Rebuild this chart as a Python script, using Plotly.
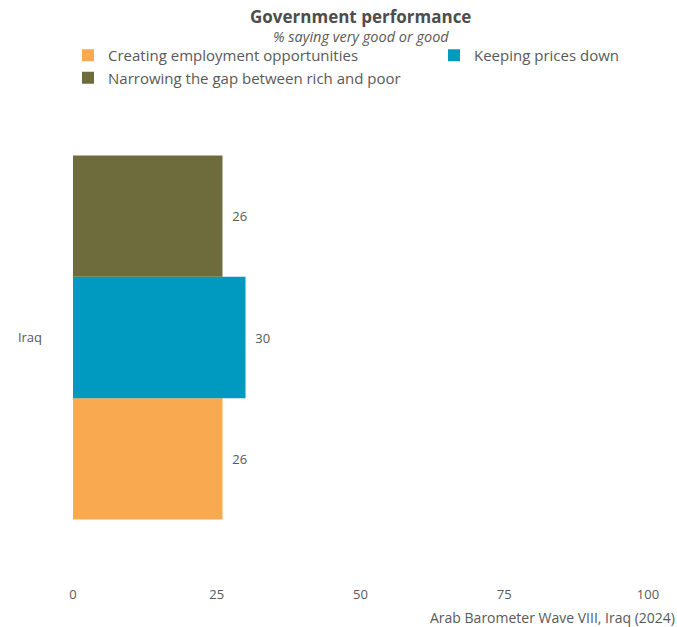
import plotly.graph_objects as go

categories = ["Iraq"]
series_names = ["Creating employment opportunities", "Keeping prices down",
                "Narrowing the gap between rich and poor"]
series_values = [[26], [30], [26]]
colors = ["#F9A94F", "#0099C0", "#6E6C3C"]
legend_ids = ["legend", "legend2", "legend"]
x_ticks = [0, 25, 50, 75, 100]

FONT = "Open Sans"
GRAY = "#595959"

# plot area geometry (px)
L, R, T, B = 73, 29, 110, 62
W, H = 677, 627
PW, PH = W - L - R, H - T - B


def py(ypix):
    return (H - B - ypix) / PH


def px(xpix):
    return (xpix - L) / PW


fig = go.Figure()
for name, vals, col, lg in zip(series_names, series_values, colors, legend_ids):
    fig.add_trace(go.Bar(
        y=categories, x=vals, name=name, orientation="h", legend=lg,
        marker=dict(color=col, line=dict(width=0)),
        texttemplate="\u00a0\u00a0%{x}", textposition="outside",
        textfont=dict(family=FONT, size=13, color=GRAY),
        cliponaxis=False,
    ))

legend_common = dict(
    orientation="v", xanchor="left", yanchor="top",
    font=dict(family=FONT, size=15, color=GRAY),
    traceorder="normal", itemwidth=30, bgcolor="rgba(0,0,0,0)",
)

fig.update_layout(
    width=W, height=H,
    barmode="group", bargap=0.2, bargroupgap=0,
    paper_bgcolor="white", plot_bgcolor="white",
    margin=dict(l=L, r=R, t=T, b=B, autoexpand=False),
    font=dict(family=FONT, color=GRAY, size=14),
    showlegend=True,
    legend=dict(x=px(68), y=py(39), **legend_common),
    legend2=dict(x=px(434), y=py(39), **legend_common),
    xaxis=dict(
        range=[0, 100], tickvals=x_ticks, showgrid=False, zeroline=False,
        showline=False, ticks="", ticklabelstandoff=20,
        tickfont=dict(family=FONT, size=13, color=GRAY),
    ),
    yaxis=dict(
        showgrid=False, zeroline=False, showline=False, ticks="",
        ticklabelstandoff=30, tickfont=dict(family=FONT, size=13, color=GRAY),
    ),
    annotations=[
        dict(text="<b>Government performance</b>", xref="paper", yref="paper",
             x=0.5, y=py(16.5), xanchor="center", yanchor="middle", showarrow=False,
             font=dict(family=FONT, size=17, color="#4D4D4D")),
        dict(text="<i>% saying very good or good</i>", xref="paper", yref="paper",
             x=0.5, y=py(36.5), xanchor="center", yanchor="middle", showarrow=False,
             font=dict(family=FONT, size=14.5, color=GRAY)),
        dict(text="Arab Barometer Wave VIII, Iraq (2024)", xref="paper", yref="paper",
             x=px(677), y=py(617), xanchor="right", yanchor="middle",
             showarrow=False, font=dict(family=FONT, size=14, color=GRAY)),
    ],
)

fig.write_html("out.html")
